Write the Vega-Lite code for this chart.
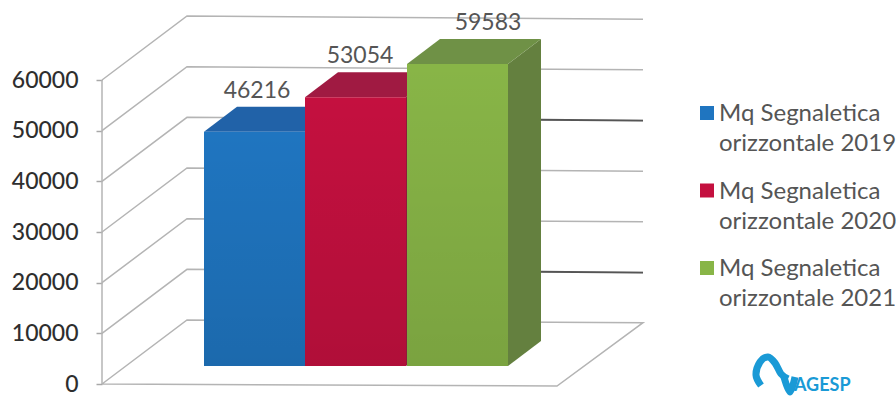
{
  "$schema": "https://vega.github.io/schema/vega-lite/v6.json",
  "width": 791,
  "height": 380,
  "padding": {"left": 102, "top": 4, "right": 3, "bottom": 12},
  "autosize": {"type": "none"},
  "background": "white",
  "view": {"stroke": null},
  "config": {"font": "Lato"},
  "datasets": {
    "wall": [
      {"line": "asse", "step": 1, "u": 0, "q": 0},
      {"line": "asse", "step": 2, "u": 0, "q": 60000},
      {"line": "g60000", "step": 1, "u": 0, "q": 60000},
      {"line": "g60000", "step": 2, "u": 8.5, "q": 72630},
      {"line": "g60000", "step": 3, "u": 54.1, "q": 72000},
      {"line": "g50000", "step": 1, "u": 0, "q": 50000},
      {"line": "g50000", "step": 2, "u": 8.5, "q": 62630},
      {"line": "g50000", "step": 3, "u": 54.1, "q": 62000},
      {"line": "g40000", "step": 1, "u": 0, "q": 40000},
      {"line": "g40000", "step": 2, "u": 8.5, "q": 52630},
      {"line": "g40000", "step": 3, "u": 54.1, "q": 52000},
      {"line": "g30000", "step": 1, "u": 0, "q": 30000},
      {"line": "g30000", "step": 2, "u": 8.5, "q": 42630},
      {"line": "g30000", "step": 3, "u": 54.1, "q": 42000},
      {"line": "g20000", "step": 1, "u": 0, "q": 20000},
      {"line": "g20000", "step": 2, "u": 8.5, "q": 32630},
      {"line": "g20000", "step": 3, "u": 54.1, "q": 32000},
      {"line": "g10000", "step": 1, "u": 0, "q": 10000},
      {"line": "g10000", "step": 2, "u": 8.5, "q": 22630},
      {"line": "g10000", "step": 3, "u": 54.1, "q": 22000},
      {"line": "floor", "step": 1, "u": 0, "q": 0},
      {"line": "floor", "step": 2, "u": 8.5, "q": 12630},
      {"line": "floor", "step": 3, "u": 54.1, "q": 12100},
      {"line": "floor", "step": 4, "u": 45.5, "q": -400},
      {"line": "floor", "step": 5, "u": 0, "q": 0}
    ],
    "darkLines": [
      {"line": "d40000", "u": 43.9, "q": 52150},
      {"line": "d40000", "u": 54.1, "q": 52000},
      {"line": "d10000", "u": 43.9, "q": 22150},
      {"line": "d10000", "u": 54.1, "q": 22000}
    ],
    "bars": [
      {"serie": "Mq Segnaletica orizzontale 2019", "value": 46216, "u0": 10.2, "u1": 20.3, "labelU": 15.5},
      {"serie": "Mq Segnaletica orizzontale 2020", "value": 53054, "u0": 20.3, "u1": 30.4, "labelU": 25.8},
      {"serie": "Mq Segnaletica orizzontale 2021", "value": 59583, "u0": 30.5, "u1": 40.6, "labelU": 38.6}
    ],
    "sides": [
      {"serie": "Mq Segnaletica orizzontale 2019", "u": 20.3, "low": 0, "high": 46216},
      {"serie": "Mq Segnaletica orizzontale 2019", "u": 23.6, "low": 4934, "high": 51150},
      {"serie": "Mq Segnaletica orizzontale 2020", "u": 30.4, "low": 0, "high": 53054},
      {"serie": "Mq Segnaletica orizzontale 2020", "u": 33.7, "low": 4934, "high": 57988},
      {"serie": "Mq Segnaletica orizzontale 2021", "u": 40.6, "low": 0, "high": 59583},
      {"serie": "Mq Segnaletica orizzontale 2021", "u": 43.9, "low": 4934, "high": 64517}
    ],
    "tops": [
      {"serie": "Mq Segnaletica orizzontale 2019", "u": 10.2, "low": 46216, "high": 46216},
      {"serie": "Mq Segnaletica orizzontale 2019", "u": 13.5, "low": 46216, "high": 51150},
      {"serie": "Mq Segnaletica orizzontale 2019", "u": 20.3, "low": 46216, "high": 51150},
      {"serie": "Mq Segnaletica orizzontale 2019", "u": 23.6, "low": 51150, "high": 51150},
      {"serie": "Mq Segnaletica orizzontale 2020", "u": 20.3, "low": 53054, "high": 53054},
      {"serie": "Mq Segnaletica orizzontale 2020", "u": 23.6, "low": 53054, "high": 57988},
      {"serie": "Mq Segnaletica orizzontale 2020", "u": 30.4, "low": 53054, "high": 57988},
      {"serie": "Mq Segnaletica orizzontale 2020", "u": 33.7, "low": 57988, "high": 57988},
      {"serie": "Mq Segnaletica orizzontale 2021", "u": 30.5, "low": 59583, "high": 59583},
      {"serie": "Mq Segnaletica orizzontale 2021", "u": 33.8, "low": 59583, "high": 64517},
      {"serie": "Mq Segnaletica orizzontale 2021", "u": 40.6, "low": 59583, "high": 64517},
      {"serie": "Mq Segnaletica orizzontale 2021", "u": 43.9, "low": 64517, "high": 64517}
    ],
    "logoStrokes": [
      {"part": "arco", "step": 1, "u": 65.9, "q": -300},
      {"part": "arco", "step": 2, "u": 65.4, "q": 1777},
      {"part": "arco", "step": 3, "u": 65.8, "q": 4343},
      {"part": "arco", "step": 4, "u": 66.6, "q": 5330},
      {"part": "arco", "step": 5, "u": 67.3, "q": 4145},
      {"part": "arco", "step": 6, "u": 67.9, "q": 2000},
      {"part": "arco", "step": 7, "u": 68.6, "q": 1000},
      {"part": "punta", "step": 1, "u": 68.2, "q": 1382},
      {"part": "punta", "step": 2, "u": 68.8, "q": -1579},
      {"part": "punta", "step": 3, "u": 69.3, "q": 1382}
    ],
    "logoName": [
      {"name": "AGESP", "u": 69.2, "q": -1300}
    ]
  },
  "resolve": {"scale": {"color": "independent"}},
  "layer": [
    {
      "data": {"name": "wall"},
      "mark": {"type": "line", "color": "#b4b4b4", "strokeWidth": 1.5, "clip": false},
      "encoding": {
        "x": {"field": "u", "type": "quantitative", "scale": {"domain": [0, 79.1], "nice": false, "zero": false}, "axis": null},
        "y": {
          "field": "q",
          "type": "quantitative",
          "scale": {"domain": [0, 75000], "nice": false},
          "axis": {
            "title": null,
            "values": [0, 10000, 20000, 30000, 40000, 50000, 60000],
            "format": "d",
            "domain": false,
            "grid": false,
            "tickColor": "#a8a8a8",
            "tickSize": 6,
            "tickWidth": 1.5,
            "labelPadding": 18,
            "labelFont": "Lato",
            "labelFontSize": 23,
            "labelFontWeight": 500,
            "labelColor": "#2e2e2e"
          }
        },
        "detail": {"field": "line"},
        "order": {"field": "step", "type": "quantitative"}
      }
    },
    {
      "data": {"name": "darkLines"},
      "mark": {"type": "line", "color": "#555555", "strokeWidth": 1.8},
      "encoding": {
        "x": {"field": "u", "type": "quantitative"},
        "y": {"field": "q", "type": "quantitative"},
        "detail": {"field": "line"}
      }
    },
    {
      "data": {"name": "sides"},
      "mark": {"type": "area", "yOffset": -18, "y2Offset": -18},
      "encoding": {
        "x": {"field": "u", "type": "quantitative"},
        "y": {"field": "low", "type": "quantitative"},
        "y2": {"field": "high"},
        "color": {
          "field": "serie",
          "type": "nominal",
          "legend": null,
          "scale": {"range": ["#1d5a9c", "#8e1a3c", "#64803f"]}
        }
      }
    },
    {
      "data": {"name": "tops"},
      "mark": {"type": "area", "yOffset": -18, "y2Offset": -18},
      "encoding": {
        "x": {"field": "u", "type": "quantitative"},
        "y": {"field": "low", "type": "quantitative"},
        "y2": {"field": "high"},
        "color": {
          "field": "serie",
          "type": "nominal",
          "legend": null,
          "scale": {"range": ["#2162a8", "#a01a42", "#6f9146"]}
        }
      }
    },
    {
      "data": {"name": "bars"},
      "mark": {"type": "rect", "yOffset": -18, "y2Offset": -18},
      "encoding": {
        "x": {"field": "u0", "type": "quantitative"},
        "x2": {"field": "u1"},
        "y": {"field": "value", "type": "quantitative"},
        "y2": {"datum": 0},
        "color": {
          "field": "serie",
          "type": "nominal",
          "scale": {"range": ["#1f75c0", "#c4103f", "#88b547"]},
          "legend": {
            "title": null,
            "orient": "none",
            "legendX": 593,
            "legendY": 97,
            "symbolType": "square",
            "symbolSize": 196,
            "symbolStrokeWidth": 0,
            "labelFont": "Lato",
            "labelFontSize": 24,
            "labelColor": "#555555",
            "labelLimit": 240,
            "labelOffset": 0,
            "labelBaseline": "alphabetic",
            "labelExpr": "[slice(datum.label, 0, 14), slice(datum.label, 15)]",
            "rowPadding": 22.5,
            "encode": {"labels": {"update": {"lineHeight": {"value": 30}, "dy": {"value": 8}}}}
          }
        }
      }
    },
    {
      "data": {"name": "bars"},
      "mark": {
        "type": "rect",
        "yOffset": -18,
        "y2Offset": -18,
        "color": {
          "x1": 0, "y1": 0, "x2": 0, "y2": 1,
          "gradient": "linear",
          "stops": [
            {"offset": 0, "color": "rgba(0,0,0,0)"},
            {"offset": 1, "color": "rgba(0,0,0,0.1)"}
          ]
        }
      },
      "encoding": {
        "x": {"field": "u0", "type": "quantitative"},
        "x2": {"field": "u1"},
        "y": {"field": "value", "type": "quantitative"},
        "y2": {"datum": 0}
      }
    },
    {
      "data": {"name": "bars"},
      "mark": {
        "type": "text",
        "yOffset": -59,
        "font": "Lato",
        "fontSize": 23,
        "color": "#555555"
      },
      "encoding": {
        "x": {"field": "labelU", "type": "quantitative"},
        "y": {"field": "value", "type": "quantitative"},
        "text": {"field": "value", "type": "nominal"}
      }
    },
    {
      "data": {"name": "logoStrokes"},
      "mark": {"type": "line", "color": "#1a9ad6", "strokeWidth": 7, "interpolate": "cardinal", "strokeJoin": "round"},
      "encoding": {
        "x": {"field": "u", "type": "quantitative"},
        "y": {"field": "q", "type": "quantitative"},
        "detail": {"field": "part"},
        "order": {"field": "step", "type": "quantitative"}
      }
    },
    {
      "data": {"name": "logoName"},
      "mark": {
        "type": "text",
        "font": "Lato",
        "fontSize": 18,
        "fontWeight": "bold",
        "color": "#1a9ad6",
        "align": "left",
        "baseline": "alphabetic"
      },
      "encoding": {
        "x": {"field": "u", "type": "quantitative"},
        "y": {"field": "q", "type": "quantitative"},
        "text": {"field": "name"}
      }
    }
  ]
}
